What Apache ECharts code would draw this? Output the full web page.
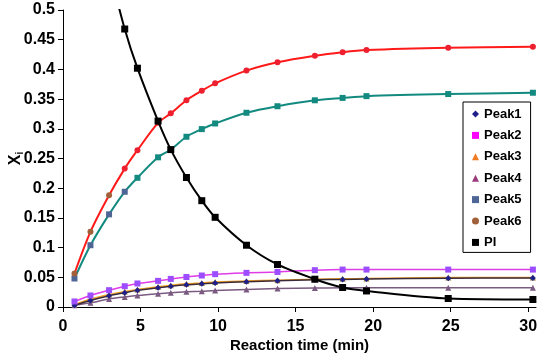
<!DOCTYPE html>
<html>
<head>
<meta charset="utf-8">
<script src="https://cdn.jsdelivr.net/npm/echarts@6/dist/echarts.min.js"></script>
<style>html,body{margin:0;padding:0;background:#fff}#c{width:550px;height:356px}</style>
</head>
<body>
<div id="c"></div>
<script>
// Reaction time (min)
const times = [0.74, 1.77, 2.97, 3.98, 4.8, 6.13, 6.95, 7.96, 8.95, 9.81, 11.83, 13.83, 16.24, 18.03, 19.57, 24.84, 30.3];
const peak1 = [0.003, 0.011, 0.019, 0.024, 0.028, 0.0325, 0.035, 0.0375, 0.039, 0.0405, 0.0425, 0.044, 0.0458, 0.0465, 0.047, 0.0485, 0.049];
const peak2 = [0.0093, 0.0194, 0.0283, 0.035, 0.0396, 0.044, 0.0473, 0.0505, 0.053, 0.0553, 0.0575, 0.059, 0.062, 0.063, 0.063, 0.063, 0.063];
const peak3 = [0.004, 0.013, 0.021, 0.026, 0.0295, 0.034, 0.0365, 0.039, 0.0405, 0.042, 0.0438, 0.0452, 0.0468, 0.0475, 0.048, 0.0495, 0.0497];
const peak4 = [0.003, 0.007, 0.0135, 0.017, 0.0195, 0.0225, 0.024, 0.0255, 0.0266, 0.0278, 0.0295, 0.031, 0.032, 0.0325, 0.0325, 0.0325, 0.0325];
const peak5 = [0.048, 0.104, 0.156, 0.194, 0.2175, 0.252, 0.265, 0.2866, 0.2995, 0.309, 0.327, 0.338, 0.348, 0.352, 0.355, 0.3585, 0.3607];
const peak6 = [0.0564, 0.1265, 0.188, 0.233, 0.264, 0.31, 0.326, 0.348, 0.364, 0.3765, 0.398, 0.412, 0.423, 0.429, 0.4326, 0.4365, 0.438];
const pi    = [0.83, 0.70, 0.57, 0.468, 0.402, 0.313, 0.265, 0.218, 0.179, 0.151, 0.104, 0.0716, 0.0468, 0.0328, 0.027, 0.0143, 0.0126];
const xTicks = [0, 5, 10, 15, 20, 25, 30];
const names = ['Peak1', 'Peak2', 'Peak3', 'Peak4', 'Peak5', 'Peak6', 'PI'];

const FONT = 'Arial, "Liberation Sans", sans-serif';

function pts(vals, fromIdx, altColor) {
  return vals.map((v, i) => {
    if (altColor && i >= fromIdx) return { value: [times[i], v], itemStyle: { color: altColor } };
    return [times[i], v];
  });
}

function series(name, vals, opt) {
  return {
    name: name,
    type: 'line',
    data: pts(vals, opt.from, opt.alt),
    smooth: 0.3,
    clip: true,
    symbol: opt.symbol,
    symbolSize: opt.size || 6,
    itemStyle: { color: opt.color },
    lineStyle: { color: opt.line, width: opt.width || 1.5 },
    z: opt.z || 2
  };
}

const chart = echarts.init(document.getElementById('c'), null, { renderer: 'canvas' });
chart.setOption({
  animation: false,
  backgroundColor: '#fff',
  grid: { left: 63, right: 14, top: 10, bottom: 49, containLabel: false, outerBoundsMode: 'none' },
  legend: {
    orient: 'vertical',
    left: 463,
    top: 102,
    backgroundColor: '#fff',
    borderColor: '#000',
    borderWidth: 1,
    padding: [5, 9, 3, 9],
    itemWidth: 7,
    itemHeight: 7,
    itemGap: 7.4,
    textStyle: { fontFamily: FONT, fontWeight: 'bold', fontSize: 13, color: '#000', lineHeight: 14 },
    data: [
      { name: 'Peak1', icon: 'diamond' },
      { name: 'Peak2', icon: 'rect' },
      { name: 'Peak3', icon: 'triangle' },
      { name: 'Peak4', icon: 'triangle' },
      { name: 'Peak5', icon: 'rect' },
      { name: 'Peak6', icon: 'circle' },
      { name: 'PI', icon: 'rect' }
    ]
  },
  xAxis: {
    type: 'value',
    min: 0,
    max: 30.5,
    interval: 5,
    name: 'Reaction time (min)',
    nameLocation: 'middle',
    nameGap: 31,
    nameMoveOverlap: false,
    nameTextStyle: { fontFamily: FONT, fontWeight: 'bold', fontSize: 15, color: '#000' },
    axisLine: { show: true, lineStyle: { color: '#000', width: 1 } },
    axisTick: { show: true, inside: false, length: 5, lineStyle: { color: '#000' }, customValues: xTicks },
    axisLabel: { fontFamily: FONT, fontWeight: 'bold', fontSize: 16, color: '#000', margin: 12, customValues: xTicks },
    splitLine: { show: false }
  },
  yAxis: {
    type: 'value',
    min: 0,
    max: 0.5,
    interval: 0.05,
    name: '{b|X}{s|i}',
    nameLocation: 'middle',
    nameRotate: 90,
    nameGap: 38,
    nameMoveOverlap: false,
    nameTextStyle: {
      fontFamily: FONT, fontWeight: 'bold', fontSize: 16, color: '#000',
      rich: {
        b: { fontFamily: FONT, fontWeight: 'bold', fontSize: 16, color: '#000' },
        s: { fontFamily: FONT, fontWeight: 'bold', fontSize: 10, color: '#000', padding: [8, 0, 0, 0] }
      }
    },
    axisLine: { show: true, lineStyle: { color: '#000', width: 1 } },
    axisTick: { show: true, inside: false, length: 5, lineStyle: { color: '#000' } },
    axisLabel: { fontFamily: FONT, fontWeight: 'bold', fontSize: 16, color: '#000', margin: 8 },
    splitLine: { show: false }
  },
  series: [
    series('Peak1', peak1, { symbol: 'diamond', color: '#1f1f8a', line: '#3b2a3a', size: 6, z: 3 }),
    series('Peak2', peak2, { symbol: 'rect', color: '#ff00ff', alt: '#9b4dff', from: 0, line: '#e03ce8', size: 6, z: 3 }),
    series('Peak3', peak3, { symbol: 'triangle', color: '#f07a20', alt: '#9a7a3a', from: 0, line: '#f0a020', size: 6, z: 2 }),
    series('Peak4', peak4, { symbol: 'triangle', color: '#9a3a7a', alt: '#7a5a80', from: 0, line: '#7a5a80', size: 6, z: 2 }),
    series('Peak5', peak5, { symbol: 'rect', color: '#4e6696', alt: '#138a80', from: 4, line: '#138a80', size: 6, width: 2, z: 4 }),
    series('Peak6', peak6, { symbol: 'circle', color: '#a0603a', alt: '#ee2030', from: 3, line: '#ff1a1a', size: 6, width: 2, z: 4 }),
    series('PI', pi, { symbol: 'rect', color: '#000000', line: '#000000', size: 7, width: 2, z: 5 })
  ]
});
</script>
</body>
</html>
